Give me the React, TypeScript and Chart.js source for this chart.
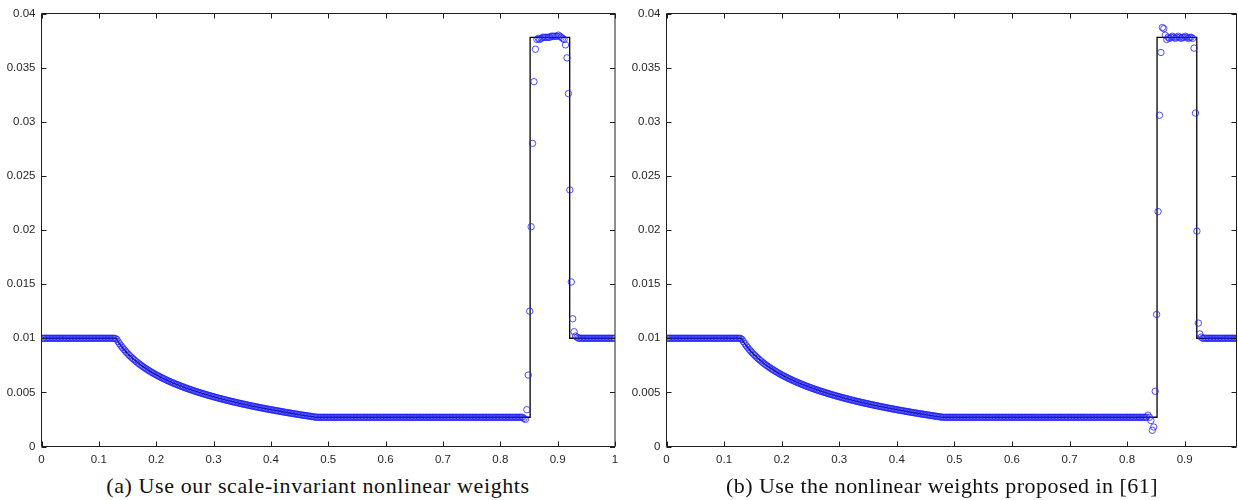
import React, { useEffect, useRef } from "react";
import { Chart, registerables } from "chart.js";

Chart.register(...registerables);

// ---------- axis ticks ----------
const xTicks = [0, 0.1, 0.2, 0.3, 0.4, 0.5, 0.6, 0.7, 0.8, 0.9, 1];
const yTicks = [0, 0.005, 0.01, 0.015, 0.02, 0.025, 0.03, 0.035, 0.04];

// ---------- mesh: 400 uniform cells on [0,1] ----------
const CELL_WIDTH = 0.0025;

// numerical solution (blue circles), read cell by cell; identical in both panels up to x ~ 0.835
const leftStateY = [
  0.01, 0.01, 0.01, 0.01, 0.01, 0.01, 0.01, 0.01, 0.01, 0.01,
  0.01, 0.01, 0.01, 0.01, 0.01, 0.01, 0.01, 0.01, 0.01, 0.01,
  0.01, 0.01, 0.01, 0.01, 0.01, 0.01, 0.01, 0.01, 0.01, 0.01,
  0.01, 0.01, 0.01, 0.01, 0.01, 0.01, 0.01, 0.01, 0.01, 0.01,
  0.01, 0.01, 0.01, 0.01, 0.01, 0.01, 0.01, 0.01, 0.01, 0.01,
  0.01, 0.00998,
];

const rarefactionY = [
  0.009888, 0.009680, 0.009485, 0.009302, 0.009130, 0.008967, 0.008812, 0.008666, 0.008525, 0.008391,
  0.008263, 0.008141, 0.008023, 0.007909, 0.007800, 0.007694, 0.007592, 0.007494, 0.007398, 0.007306,
  0.007217, 0.007130, 0.007045, 0.006963, 0.006882, 0.006804, 0.006728, 0.006654, 0.006582, 0.006512,
  0.006443, 0.006375, 0.006309, 0.006245, 0.006182, 0.006120, 0.006059, 0.005999, 0.005942, 0.005884,
  0.005829, 0.005773, 0.005720, 0.005666, 0.005614, 0.005562, 0.005513, 0.005463, 0.005414, 0.005366,
  0.005319, 0.005273, 0.005227, 0.005181, 0.005138, 0.005094, 0.005050, 0.005008, 0.004967, 0.004925,
  0.004884, 0.004844, 0.004805, 0.004765, 0.004726, 0.004688, 0.004651, 0.004613, 0.004577, 0.004541,
  0.004505, 0.004469, 0.004434, 0.004400, 0.004365, 0.004331, 0.004298, 0.004264, 0.004232, 0.004200,
  0.004168, 0.004136, 0.004105, 0.004073, 0.004043, 0.004013, 0.003983, 0.003953, 0.003923, 0.003893,
  0.003865, 0.003837, 0.003808, 0.003780, 0.003752, 0.003724, 0.003698, 0.003670, 0.003643, 0.003617,
  0.003590, 0.003564, 0.003538, 0.003512, 0.003487, 0.003461, 0.003436, 0.003412, 0.003387, 0.003363,
  0.003338, 0.003314, 0.003291, 0.003267, 0.003244, 0.003220, 0.003198, 0.003174, 0.003151, 0.003129,
  0.003106, 0.003084, 0.003062, 0.003040, 0.003019, 0.002997, 0.002976, 0.002954, 0.002933, 0.002912,
  0.002891, 0.002871, 0.002849, 0.002829, 0.002809, 0.002789, 0.002769, 0.002749, 0.002729, 0.002709,
];

const middleStateY = [
  0.0027, 0.0027, 0.0027, 0.0027, 0.0027, 0.0027, 0.0027, 0.0027, 0.0027, 0.0027,
  0.0027, 0.0027, 0.0027, 0.0027, 0.0027, 0.0027, 0.0027, 0.0027, 0.0027, 0.0027,
  0.0027, 0.0027, 0.0027, 0.0027, 0.0027, 0.0027, 0.0027, 0.0027, 0.0027, 0.0027,
  0.0027, 0.0027, 0.0027, 0.0027, 0.0027, 0.0027, 0.0027, 0.0027, 0.0027, 0.0027,
  0.0027, 0.0027, 0.0027, 0.0027, 0.0027, 0.0027, 0.0027, 0.0027, 0.0027, 0.0027,
  0.0027, 0.0027, 0.0027, 0.0027, 0.0027, 0.0027, 0.0027, 0.0027, 0.0027, 0.0027,
  0.0027, 0.0027, 0.0027, 0.0027, 0.0027, 0.0027, 0.0027, 0.0027, 0.0027, 0.0027,
  0.0027, 0.0027, 0.0027, 0.0027, 0.0027, 0.0027, 0.0027, 0.0027, 0.0027, 0.0027,
  0.0027, 0.0027, 0.0027, 0.0027, 0.0027, 0.0027, 0.0027, 0.0027, 0.0027, 0.0027,
  0.0027, 0.0027, 0.0027, 0.0027, 0.0027, 0.0027, 0.0027, 0.0027, 0.0027, 0.0027,
  0.0027, 0.0027, 0.0027, 0.0027, 0.0027, 0.0027, 0.0027, 0.0027, 0.0027, 0.0027,
  0.0027, 0.0027, 0.0027, 0.0027, 0.0027, 0.0027, 0.0027, 0.0027, 0.0027, 0.0027,
  0.0027, 0.0027, 0.0027, 0.0027, 0.0027, 0.0027, 0.0027, 0.0027, 0.0027, 0.0027,
  0.0027, 0.0027, 0.0027, 0.0027, 0.0027, 0.0027, 0.0027, 0.0027, 0.0027, 0.0027,
  0.0027, 0.0027,
];

// panel (a): scale-invariant weights, cells from x ~ 0.836 to 1
const tailA = [
  0.0027, 0.0027, 0.0026, 0.0025, 0.0034, 0.0066, 0.0125, 0.0203, 0.0280, 0.0337,
  0.0367, 0.0376, 0.0377, 0.0376, 0.0377, 0.0378, 0.0378, 0.0378, 0.0378, 0.0378,
  0.0378, 0.0379, 0.0379, 0.0379, 0.0379, 0.0379, 0.0380, 0.0379, 0.0378, 0.0377,
  0.0376, 0.0371, 0.0359, 0.0326, 0.0237, 0.0152, 0.0118, 0.0106, 0.0102, 0.0101,
  0.01, 0.01, 0.01, 0.01, 0.01, 0.01, 0.01, 0.01, 0.01, 0.01,
  0.01, 0.01, 0.01, 0.01, 0.01, 0.01, 0.01, 0.01, 0.01, 0.01,
  0.01, 0.01, 0.01, 0.01, 0.01, 0.01,
];

// panel (b): weights of [61], cells from x ~ 0.836 to 1
const tailB = [
  0.0029, 0.0027, 0.0024, 0.0015, 0.0018, 0.0051, 0.0122, 0.0217, 0.0306, 0.0364,
  0.0387, 0.0386, 0.0380, 0.0376, 0.0378, 0.0377, 0.0378, 0.0379, 0.0378, 0.0377,
  0.0378, 0.0379, 0.0378, 0.0377, 0.0378, 0.0378, 0.0379, 0.0378, 0.0377, 0.0378,
  0.0378, 0.0377, 0.0368, 0.0308, 0.0199, 0.0114, 0.0104, 0.0101, 0.0100, 0.0100,
  0.01, 0.01, 0.01, 0.01, 0.01, 0.01, 0.01, 0.01, 0.01, 0.01,
  0.01, 0.01, 0.01, 0.01, 0.01, 0.01, 0.01, 0.01, 0.01, 0.01,
  0.01, 0.01, 0.01, 0.01, 0.01, 0.01,
];

// exact solution (black line)
const exactX = [0, 0.13, 0.135, 0.14, 0.15, 0.16, 0.175, 0.19, 0.21, 0.23, 0.255, 0.28, 0.31, 0.34, 0.37, 0.4, 0.43, 0.46, 0.48, 0.852, 0.852, 0.921, 0.921, 1];
const exactY = [0.01, 0.01, 0.009582, 0.009216, 0.008595, 0.008082, 0.007446, 0.006922, 0.006342, 0.005856, 0.005343, 0.004905, 0.004452, 0.004058, 0.003711, 0.003399, 0.003118, 0.00286, 0.0027, 0.0027, 0.0378, 0.0378, 0.01, 0.01];

const captionA = "(a) Use our scale-invariant nonlinear weights";
const captionB = "(b) Use the nonlinear weights proposed in [61]";

const TICK_LEN = 5;

const boxPlugin = {
  id: "boxTicks",
  afterDraw(chart: any) {
    const { ctx, chartArea, scales } = chart;
    const { left, right, top, bottom } = chartArea;
    const xs = scales.x;
    const ys = scales.y;
    ctx.save();
    ctx.strokeStyle = "#1e1e1e";
    ctx.lineWidth = 1;
    ctx.beginPath();
    ctx.rect(left, top, right - left, bottom - top);
    for (const t of xs.ticks) {
      const px = Math.round(xs.getPixelForValue(t.value)) + 0.5;
      ctx.moveTo(px, bottom);
      ctx.lineTo(px, bottom - TICK_LEN);
      ctx.moveTo(px, top);
      ctx.lineTo(px, top + TICK_LEN);
    }
    for (const t of ys.ticks) {
      const py = Math.round(ys.getPixelForValue(t.value)) + 0.5;
      ctx.moveTo(left, py);
      ctx.lineTo(left + TICK_LEN, py);
      ctx.moveTo(right, py);
      ctx.lineTo(right - TICK_LEN, py);
    }
    ctx.stroke();
    ctx.restore();
  },
};

type PanelProps = {
  tail: number[];
  xMax: number;
  left: number;
  width: number;
  axisWidth: number;
  rightPad: number;
};

function Panel({ tail, xMax, left, width, axisWidth, rightPad }: PanelProps) {
  const ref = useRef<HTMLCanvasElement>(null);
  useEffect(() => {
    const cells = [...leftStateY, ...rarefactionY, ...middleStateY, ...tail];
    const numeric = cells.map((y, i) => ({ x: (i + 0.5) * CELL_WIDTH, y }));
    const exact = exactX.map((x, i) => ({ x, y: exactY[i] }));
    const tickFont = { family: "'Liberation Sans', Arial, sans-serif", size: 11.5 };
    const chart = new Chart(ref.current as HTMLCanvasElement, {
      type: "scatter",
      data: {
        datasets: [
          {
            data: numeric,
            showLine: false,
            pointStyle: "circle",
            pointRadius: 3.2,
            pointHoverRadius: 3.2,
            pointBorderWidth: 0.9,
            pointBorderColor: "rgba(30,30,255,0.88)",
            pointBackgroundColor: "rgba(0,0,0,0)",
            order: 0,
            clip: 0,
          } as any,
          {
            data: exact,
            showLine: true,
            borderColor: "#000000",
            borderWidth: 1.3,
            pointRadius: 0,
            pointHoverRadius: 0,
            order: 1,
            clip: 0,
          } as any,
        ],
      },
      options: {
        responsive: false,
        animation: false,
        events: [],
        layout: { autoPadding: false, padding: { top: 13.5, right: rightPad, left: 0, bottom: 0 } },
        plugins: { legend: { display: false }, tooltip: { enabled: false }, title: { display: false } },
        scales: {
          x: {
            type: "linear",
            min: 0,
            max: xMax,
            grid: { display: false, drawTicks: false },
            border: { display: false },
            afterBuildTicks: (s: any) => {
              s.ticks = xTicks.filter((v) => v <= xMax + 1e-9).map((v) => ({ value: v }));
            },
            afterFit: (s: any) => {
              s.height = 23.5;
              s.paddingLeft = 0;
              s.paddingRight = 0;
            },
            ticks: {
              autoSkip: false,
              maxRotation: 0,
              padding: 6,
              color: "#262626",
              font: tickFont,
              callback: (v: any) => String(v),
            },
          },
          y: {
            type: "linear",
            min: 0,
            max: 0.04,
            grid: { display: false, drawTicks: false },
            border: { display: false },
            afterBuildTicks: (s: any) => {
              s.ticks = yTicks.map((v) => ({ value: v }));
            },
            afterFit: (s: any) => {
              s.width = axisWidth;
              s.paddingTop = 0;
              s.paddingBottom = 0;
            },
            ticks: {
              autoSkip: false,
              padding: 6,
              color: "#262626",
              font: tickFont,
              callback: (v: any) => String(v),
            },
          },
        },
      } as any,
      plugins: [boxPlugin],
    });
    return () => chart.destroy();
  }, []);
  return (
    <canvas
      ref={ref}
      width={width}
      height={470}
      style={{ position: "absolute", left, top: 0, width, height: 470 }}
    />
  );
}

const captionStyle = (center: number, spacing: number): React.CSSProperties => ({
  position: "absolute",
  left: center - 320,
  width: 640,
  top: 474,
  textAlign: "center",
  fontFamily: "'Liberation Serif', 'Times New Roman', serif",
  fontSize: 22,
  lineHeight: "24px",
  letterSpacing: `${spacing}px`,
  color: "#111",
  whiteSpace: "nowrap",
});

export default function App() {
  return (
    <div style={{ position: "absolute", left: 0, top: 0, width: 1238, height: 500, background: "#fff", overflow: "hidden" }}>
      <Panel tail={tailA} xMax={1} left={0} width={622} axisWidth={41.5} rightPad={7} />
      <Panel tail={tailB} xMax={0.99} left={620} width={618} axisWidth={46.5} rightPad={1.5} />
      <div style={captionStyle(318, 0.6)}>{captionA}</div>
      <div style={captionStyle(942, 0.45)}>{captionB}</div>
    </div>
  );
}
